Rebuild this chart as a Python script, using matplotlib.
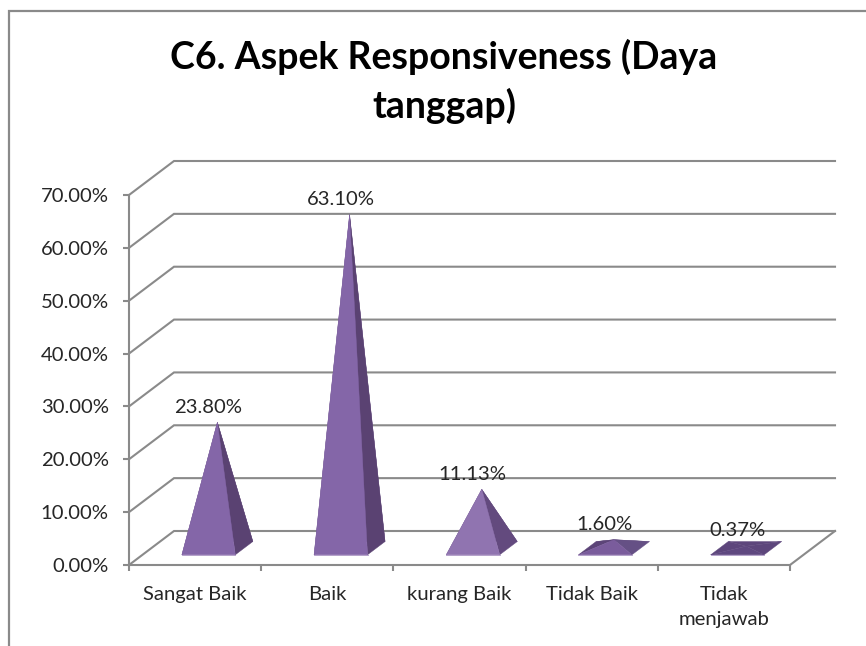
import matplotlib
matplotlib.use('Agg')
import matplotlib.pyplot as plt
from matplotlib.lines import Line2D
from matplotlib.patches import Polygon

# Chart data
categories = ['Sangat Baik', 'Baik', 'kurang Baik', 'Tidak Baik', 'Tidak\nmenjawab']
values = [23.80, 63.10, 11.13, 1.60, 0.37]
value_labels = ['23.80%', '63.10%', '11.13%', '1.60%', '0.37%']
y_ticks = [0, 10, 20, 30, 40, 50, 60, 70]
title = 'C6. Aspek Responsiveness (Daya\ntanggap)'

# Face shades change with the slope of each pyramid
front_colors = ['#8466a8', '#8466a8', '#9074b0', '#7a5c9c', '#5f4880']
side_colors = ['#5a4272', '#5a4272', '#634a7e', '#655085', '#5d467c']
back_colors = ['#6a4f86', '#6a4f86', '#6a4f86', '#5c4478', '#5d467c']

W, H = 866, 646
GRAY = '#8a8a8a'
TEXT = '#262626'

plt.rcParams['font.family'] = ['Lato', 'DejaVu Sans']

fig = plt.figure(figsize=(W / 100, H / 100), dpi=100, facecolor='white')
ax = fig.add_axes([129 / W, 1 - 565 / H, (790 - 129) / W, (565 - 195) / H])
ax.set_xlim(0, 5)
ax.set_ylim(0, 70)
ax.patch.set_visible(False)

# depth of the oblique 3D view, in data units per unit of depth
depth_x = 45 / (661 / 5)
depth_y = 34 / (370 / 70)


def project(x, v, d):
    return x + d * depth_x, v + d * depth_y


# Back wall gridlines, running from the front axis to the back and across
for v in y_ticks:
    xs, ys = zip(project(0, v, 0), project(0, v, 1), project(5, v, 1))
    ax.plot(xs, ys, color=GRAY, lw=1.5, clip_on=False, zorder=1, solid_joinstyle='miter')
xs, ys = zip(project(5, 0, 0), project(5, 0, 1))
ax.plot(xs, ys, color=GRAY, lw=1.5, clip_on=False, zorder=1)

# Pyramids
half_width = 0.202
d_front, d_back = 0.30, 0.69
for i, val in enumerate(values):
    c = i + 0.5
    fl = project(c - half_width, 0, d_front)
    fr = project(c + half_width, 0, d_front)
    br = project(c + half_width, 0, d_back)
    bl = project(c - half_width, 0, d_back)
    apex = project(c, val, (d_front + d_back) / 2)
    ax.add_patch(Polygon([fl, bl, apex], closed=True, fc=back_colors[i], ec=back_colors[i], lw=0.3, clip_on=False, zorder=2))
    ax.add_patch(Polygon([bl, br, apex], closed=True, fc=back_colors[i], ec=back_colors[i], lw=0.3, clip_on=False, zorder=2))
    ax.add_patch(Polygon([fr, br, apex], closed=True, fc=side_colors[i], ec=side_colors[i], lw=0.3, clip_on=False, zorder=3))
    ax.add_patch(Polygon([fl, fr, apex], closed=True, fc=front_colors[i], ec=front_colors[i], lw=0.3, clip_on=False, zorder=4))
    ax.plot([fl[0], fr[0]], [fl[1], fr[1]], color='#a892c2', lw=0.6, clip_on=False, zorder=5)
    ax.annotate(value_labels[i], xy=apex, xytext=(-6.5, 11), textcoords='offset points',
                ha='center', va='center', fontsize=14.6, color=TEXT, zorder=6, annotation_clip=False)

# Axes
for side in ('top', 'right'):
    ax.spines[side].set_visible(False)
for side in ('left', 'bottom'):
    ax.spines[side].set_color(GRAY)
    ax.spines[side].set_linewidth(1.5)

ax.set_yticks(y_ticks)
ax.set_yticklabels(['%.2f%%' % v for v in y_ticks])
ax.tick_params(axis='y', length=4.5, width=1.5, color=GRAY, pad=10, labelsize=14.6, labelcolor=TEXT)

ax.set_xticks(range(6))
ax.set_xticklabels([])
ax.set_xticks([i + 0.5 for i in range(5)], minor=True)
ax.set_xticklabels(categories, minor=True, linespacing=1.55)
ax.tick_params(axis='x', which='major', length=4.5, width=1.5, color=GRAY)
ax.tick_params(axis='x', which='minor', length=0, pad=15, labelsize=14.6, labelcolor=TEXT)

# Title
fig.text(444 / W, 1 - 81.5 / H, title, ha='center', va='center', fontsize=27,
         fontweight='bold', color='black', linespacing=1.4)

# Chart frame, cut off at the right and bottom of the picture
fig.add_artist(Line2D([9 / W, 9 / W, 1], [0, 1 - 11 / H, 1 - 11 / H], color=GRAY, lw=1.6,
                      solid_joinstyle='miter'))

fig.savefig('out.png', dpi=100, facecolor='white')
